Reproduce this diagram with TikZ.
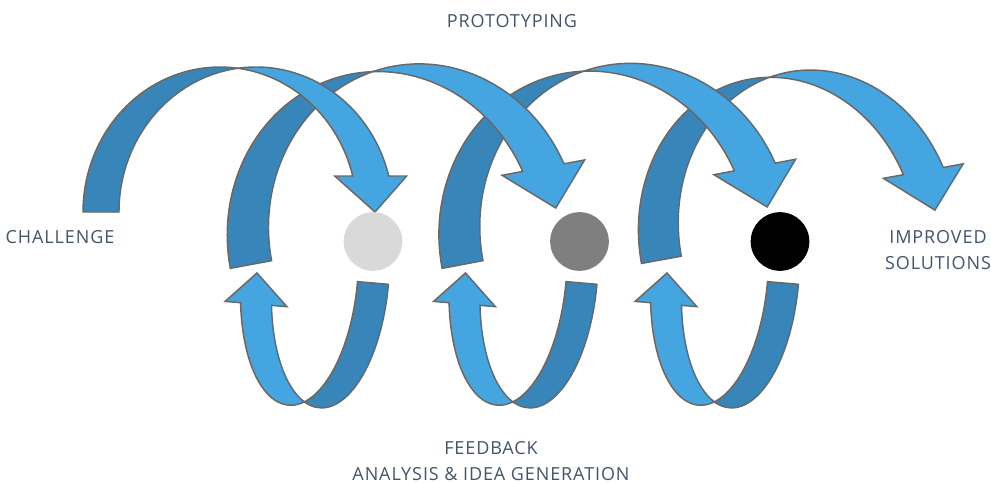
\documentclass[tikz,border=0pt]{standalone}
\usepackage{fontspec}
\setmainfont{Open Sans}[LetterSpace=5]

\definecolor{backblue}{RGB}{56,134,185}
\definecolor{frontblue}{RGB}{69,165,224}
\definecolor{edgegray}{RGB}{104,104,104}
\definecolor{textslate}{RGB}{68,84,106}

% twisted ribbon arrow: #1,#2 centre of the left ellipse, #3 rotation,
% #4,#5 radii, #6 band width
\newcommand{\ribbonarrow}[6]{%
  \begin{scope}[shift={(#1,#2)}, rotate=#3]
    \pgfmathsetmacro{\apexang}{acos(#6/(2*#4))}
    \pgfmathsetmacro{\apexangb}{180-\apexang}
    \pgfmathsetmacro{\headang}{asin(#6/#5)}
    \pgfmathsetmacro{\headx}{#4*cos(\headang)}
    % back half
    \draw[band, fill=backblue] (-#4,0)
      arc[start angle=180, end angle=\apexang, x radius=#4, y radius=#5]
      arc[start angle=\apexangb, end angle=180, x radius=#4, y radius=#5] -- cycle;
    % front half with the head
    \draw[band, fill=frontblue] ({#6/2},{#5*sin(\apexang)})
      arc[start angle=\apexangb, end angle=\headang, x radius=#4, y radius=#5]
      -- ({#6+\headx+#6/2},#6) -- ({#4+#6/2},0) -- ({\headx-#6/2},#6) -- (\headx,#6)
      arc[start angle=\headang, end angle=\apexang, x radius=#4, y radius=#5] -- cycle;
  \end{scope}}

\begin{document}
\begin{tikzpicture}[x=0.75pt, y=0.75pt,
    band/.style={draw=edgegray, line width=1.1pt},
    phase/.style={text=textslate, font=\fontsize{13.5}{19.5}\selectfont, align=center, inner sep=1pt},
    stage/.style={circle, minimum size=44pt, inner sep=0pt}]
  \useasboundingbox (0,0) rectangle (991,483);

  % big loops over the top, back one first
  \ribbonarrow{778.2}{244.4}{10.3}{139}{162}{40.5}
  \ribbonarrow{594.4}{243.4}{10.7}{155}{169}{41.6}
  \ribbonarrow{382.7}{242.9}{10.5}{155}{169}{42}
  \ribbonarrow{220}{271}{0}{137}{145}{36}

  % small loops underneath
  \ribbonarrow{330.4}{203.7}{175.1}{58.2}{129}{31}
  \ribbonarrow{538.9}{203.7}{175.1}{58.2}{129}{31}
  \ribbonarrow{740.4}{203.7}{175.1}{58.2}{129}{31}

  % stages
  \node[stage, fill={rgb,255:red,217;green,217;blue,217}] (stage1) at (373,241.5) {};
  \node[stage, fill={rgb,255:red,127;green,127;blue,127}] (stage2) at (579.5,241.5) {};
  \node[stage, fill=black] (stage3) at (780,241.5) {};

  \node[phase] (proto) at (512,462) {PROTOTYPING};
  \node[phase] (challenge) at (60,246) {CHALLENGE};
  \node[phase] (improved) at (938,232.5) {IMPROVED\\SOLUTIONS};
  \node[phase] (feedback) at (491,22) {FEEDBACK\\ANALYSIS \& IDEA GENERATION};
\end{tikzpicture}
\end{document}
